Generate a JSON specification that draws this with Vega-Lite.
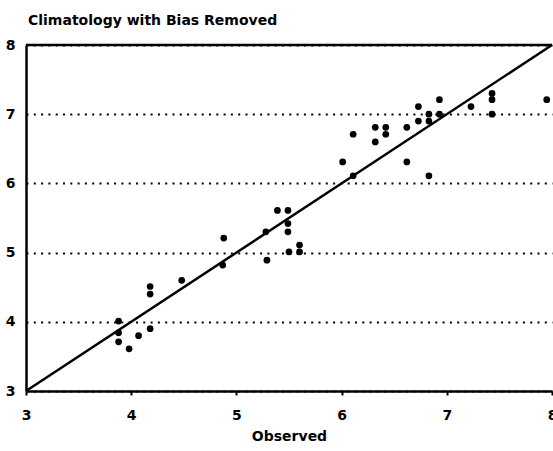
{
  "$schema": "https://vega.github.io/schema/vega-lite/v6.json",
  "width": 526,
  "height": 346,
  "autosize": "none",
  "padding": {"left": 26, "top": 45, "right": 1, "bottom": 60},
  "background": "white",
  "config": {
    "view": {"stroke": null},
    "font": "DejaVu Sans"
  },
  "title": {
    "text": "Climatology with Bias Removed",
    "anchor": "start",
    "frame": "group",
    "baseline": "alphabetic",
    "offset": -1,
    "dx": 2,
    "font": "DejaVu Sans",
    "fontSize": 14,
    "fontWeight": "bold",
    "color": "black"
  },
  "datasets": {
    "pts": [
      {"obs": 4.48, "pred": 4.60}, {"obs": 4.18, "pred": 4.51}, {"obs": 4.18, "pred": 4.40},
      {"obs": 3.88, "pred": 4.01}, {"obs": 3.88, "pred": 3.84}, {"obs": 3.88, "pred": 3.71},
      {"obs": 3.98, "pred": 3.61}, {"obs": 4.07, "pred": 3.80}, {"obs": 4.18, "pred": 3.90},
      {"obs": 4.88, "pred": 5.21}, {"obs": 4.87, "pred": 4.82}, {"obs": 5.29, "pred": 4.89},
      {"obs": 5.28, "pred": 5.30}, {"obs": 5.39, "pred": 5.61}, {"obs": 5.49, "pred": 5.61},
      {"obs": 5.49, "pred": 5.42}, {"obs": 5.49, "pred": 5.30}, {"obs": 5.50, "pred": 5.01},
      {"obs": 5.60, "pred": 5.11}, {"obs": 5.60, "pred": 5.01},
      {"obs": 6.01, "pred": 6.31}, {"obs": 6.11, "pred": 6.71}, {"obs": 6.11, "pred": 6.11},
      {"obs": 6.32, "pred": 6.81}, {"obs": 6.32, "pred": 6.60}, {"obs": 6.42, "pred": 6.81},
      {"obs": 6.42, "pred": 6.71}, {"obs": 6.62, "pred": 6.81}, {"obs": 6.62, "pred": 6.31},
      {"obs": 6.73, "pred": 7.11}, {"obs": 6.73, "pred": 6.90}, {"obs": 6.83, "pred": 7.00},
      {"obs": 6.83, "pred": 6.90}, {"obs": 6.83, "pred": 6.11}, {"obs": 6.93, "pred": 7.21},
      {"obs": 6.93, "pred": 7.00}, {"obs": 7.23, "pred": 7.11}, {"obs": 7.43, "pred": 7.30},
      {"obs": 7.43, "pred": 7.21}, {"obs": 7.43, "pred": 7.00}, {"obs": 7.95, "pred": 7.21}
    ],
    "diag": [
      {"obs": 3, "pred": 3},
      {"obs": 8, "pred": 8}
    ]
  },
  "layer": [
    {
      "data": {"name": "pts"},
      "mark": {"type": "circle", "color": "black", "opacity": 1, "size": 45},
      "encoding": {
        "x": {
          "field": "obs", "type": "quantitative",
          "scale": {"domain": [3, 8], "nice": false, "zero": false},
          "axis": {
            "title": "Observed",
            "values": [3, 4, 5, 6, 7, 8],
            "format": "d",
            "grid": false,
            "domainColor": "black", "domainWidth": 2.5,
            "tickColor": "black", "tickSize": 4, "tickWidth": 2,
            "labelFont": "DejaVu Sans", "labelFontSize": 14, "labelFontWeight": "bold",
            "labelColor": "black", "labelPadding": 13, "labelFlush": false,
            "titleFont": "DejaVu Sans", "titleFontSize": 14, "titleFontWeight": "bold",
            "titleColor": "black", "titlePadding": 7
          }
        },
        "y": {
          "field": "pred", "type": "quantitative",
          "scale": {"domain": [3, 8], "nice": false, "zero": false},
          "axis": {
            "title": null,
            "values": [3, 4, 5, 6, 7, 8],
            "format": "d",
            "grid": true,
            "gridColor": "black", "gridWidth": 2, "gridDash": [2, 5.3], "gridOpacity": 1,
            "domainColor": "black", "domainWidth": 2.5,
            "tickSize": 0,
            "labelFont": "DejaVu Sans", "labelFontSize": 14, "labelFontWeight": "bold",
            "labelColor": "black", "labelPadding": 11, "labelFlush": false
          }
        }
      }
    },
    {
      "data": {"name": "diag"},
      "mark": {"type": "line", "color": "black", "strokeWidth": 2.5},
      "encoding": {
        "x": {"field": "obs", "type": "quantitative"},
        "y": {"field": "pred", "type": "quantitative"}
      }
    },
    {
      "data": {"values": [{}]},
      "mark": {"type": "rule", "color": "black", "strokeWidth": 2.5},
      "encoding": {
        "y": {"datum": 8}
      }
    }
  ]
}
